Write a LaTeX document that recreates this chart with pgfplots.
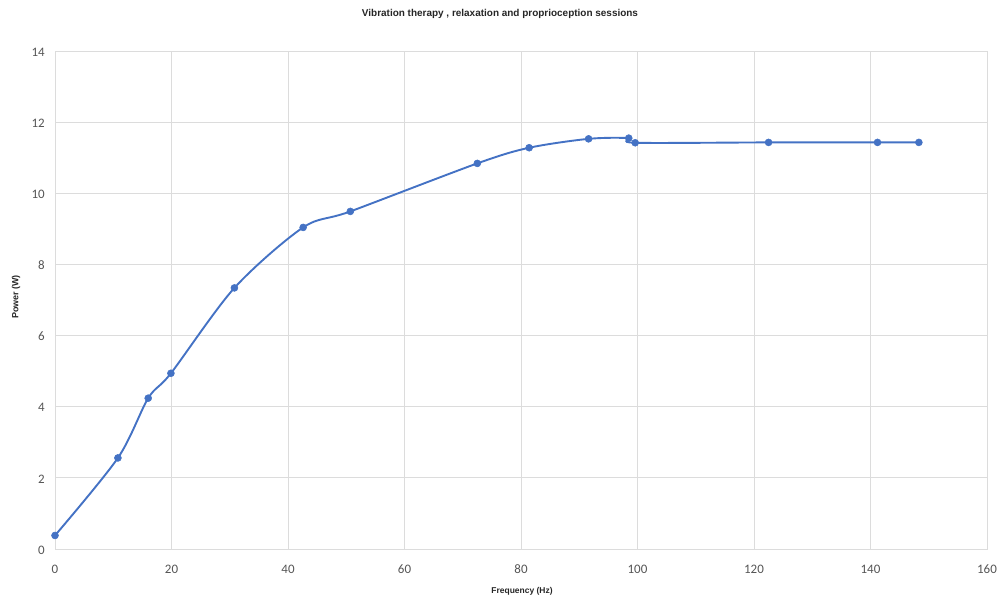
\documentclass[border=0pt]{standalone}
\usepackage{fontspec}
\setmainfont{Liberation Sans}
\newfontfamily\tickfont{Carlito}
\usepackage{pgfplots}
\pgfplotsset{compat=1.18}
\definecolor{lineblue}{RGB}{68,114,196}
\definecolor{gridgray}{RGB}{220,220,220}
\definecolor{ticktext}{RGB}{85,85,85}
\begin{document}
\begin{tikzpicture}[x=1bp,y=1bp]
\useasboundingbox (0,0) rectangle (998,602);
\begin{axis}[
  at={(55bp,53bp)}, anchor=south west,
  scale only axis, width=932bp, height=498bp,
  xmin=0, xmax=160, ymin=0, ymax=14,
  xtick distance=20, ytick distance=2,
  grid=major,
  major grid style={gridgray, line width=0.9bp},
  axis line style={gridgray, line width=0.9bp},
  tick style={draw=none},
  /pgf/number format/assume math mode=true,
  ticklabel style={font=\tickfont\fontsize{13}{13}\selectfont, text=ticktext, inner sep=0pt},
  xticklabel style={anchor=center, yshift=-20bp},
  yticklabel style={anchor=east, xshift=-10bp, yshift=-1bp},
]
\addplot[lineblue, line width=1.9bp, smooth, mark=*, mark size=3.5bp,
  mark options={fill=lineblue, draw=lineblue, line width=0.5bp}] coordinates {
  (0,0.38) (10.8,2.56) (16,4.24) (19.9,4.94) (30.8,7.34) (42.6,9.04)
  (50.7,9.49) (72.5,10.84) (81.4,11.28) (91.6,11.53) (98.5,11.55)
  (99.6,11.42) (122.5,11.43) (141.2,11.43) (148.3,11.43)
};
\end{axis}
\node[font=\bfseries\fontsize{10}{10}\selectfont, text=black!85] at (500,588) {Vibration therapy , relaxation and proprioception sessions};
\node[font=\bfseries\fontsize{8.5}{8.5}\selectfont, text=black!85] at (522,11) {Frequency (Hz)};
\node[font=\bfseries\fontsize{9}{9}\selectfont, text=black!85, rotate=90] at (16,305) {Power (W)};
\end{tikzpicture}
\end{document}
